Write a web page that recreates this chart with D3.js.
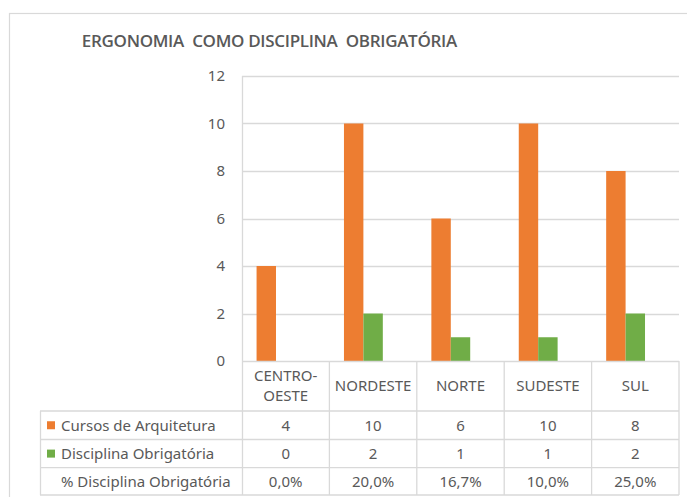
<!DOCTYPE html>
<html>
<head>
<meta charset="utf-8">
<script src="https://cdn.jsdelivr.net/npm/d3@7"></script>
<style>
  html, body { margin: 0; padding: 0; background: #fff; }
  svg { display: block; font-family: "Noto Sans", "Liberation Sans", sans-serif; }
</style>
</head>
<body>
<svg id="chart" width="687" height="497"></svg>
<script>
const categories = ["CENTRO-OESTE", "NORDESTE", "NORTE", "SUDESTE", "SUL"];
const cursosArquitetura = [4, 10, 6, 10, 8];
const disciplinaObrigatoria = [0, 2, 1, 1, 2];
const pctDisciplina = [0.0, 20.0, 16.7, 10.0, 25.0];
const yTicks = [0, 2, 4, 6, 8, 10, 12];
const seriesNames = ["Cursos de Arquitetura", "Disciplina Obrigatória", "% Disciplina Obrigatória"];
const seriesColors = ["#ED7D31", "#70AD47", null];
const title = "ERGONOMIA  COMO DISCIPLINA  OBRIGATÓRIA";

const svg = d3.select("#chart");
const textColor = "#595959";
const lineColor = "#d9d9d9";

// layout
const plot = { left: 242, right: 679, top: 76, bottom: 361 };
const tableLeft = 40;
const rowBounds = [361, 411, 439.5, 467.7, 495];

// outer chart border
svg.append("rect")
  .attr("x", 9.5).attr("y", 13.5).attr("width", 700).attr("height", 500)
  .attr("fill", "none").attr("stroke", lineColor).attr("stroke-width", 1.2);

// title
const titleEl = svg.append("text")
  .attr("x", 269.5).attr("y", 47)
  .attr("text-anchor", "middle")
  .attr("fill", textColor)
  .attr("font-size", 17)
  .attr("font-weight", 600)
  .attr("font-family", "'Open Sans', 'Noto Sans', sans-serif")
  .attr("xml:space", "preserve")
  .style("white-space", "pre")
  .text(title);
{
  const target = 375;
  const w = titleEl.node().getComputedTextLength();
  const n = title.length;
  const ls = (target - w) / n;
  titleEl.attr("letter-spacing", ls);
  titleEl.attr("x", 269.5 + ls / 2);
}

const y = d3.scaleLinear().domain([0, 12]).range([plot.bottom, plot.top]);
const x = d3.scaleBand().domain(categories).range([plot.left, plot.right]).padding(0);
const subKeys = [0, 1, 2];
const x1 = d3.scaleBand().domain(subKeys).range([0, x.bandwidth()]).paddingInner(0).paddingOuter(0.75);

// gridlines
svg.append("g")
  .selectAll("line").data(yTicks.filter(d => d > 0)).join("line")
  .attr("x1", plot.left).attr("x2", plot.right)
  .attr("y1", d => Math.round(y(d)) + 0.5).attr("y2", d => Math.round(y(d)) + 0.5)
  .attr("stroke", lineColor).attr("stroke-width", 1.3);

// y axis labels
const yAxis = d3.axisLeft(y).tickValues(yTicks).tickSize(0).tickPadding(0).tickFormat(d3.format("d"));
const yg = svg.append("g").attr("transform", `translate(${225},0)`).call(yAxis);
yg.select(".domain").remove();
yg.selectAll("text").attr("fill", textColor).attr("font-size", 15).attr("font-family", "Noto Sans, sans-serif");

// bars
const barSeries = [cursosArquitetura, disciplinaObrigatoria];
barSeries.forEach((vals, si) => {
  svg.append("g").selectAll("rect").data(vals).join("rect")
    .attr("x", (d, i) => x(categories[i]) + x1(si))
    .attr("width", x1.bandwidth())
    .attr("y", d => y(d))
    .attr("height", d => y(0) - y(d))
    .attr("fill", seriesColors[si]);
});

// data table lines
const tg = svg.append("g").attr("stroke", lineColor).attr("stroke-width", 1.3);
tg.append("line").attr("x1", plot.left).attr("x2", plot.right)
  .attr("y1", plot.bottom + 0.5).attr("y2", plot.bottom + 0.5);
rowBounds.slice(1).forEach(r => {
  tg.append("line").attr("x1", tableLeft).attr("x2", plot.right)
    .attr("y1", r).attr("y2", r);
});
tg.append("line").attr("x1", plot.left + 0.5).attr("x2", plot.left + 0.5)
  .attr("y1", plot.top).attr("y2", rowBounds[4]);
categories.forEach((c, i) => {
  const xx = x(c) + x.bandwidth();
  tg.append("line").attr("x1", xx).attr("x2", xx)
    .attr("y1", plot.bottom).attr("y2", rowBounds[4]);
});
tg.append("line").attr("x1", tableLeft + 0.5).attr("x2", tableLeft + 0.5)
  .attr("y1", rowBounds[1]).attr("y2", rowBounds[4]);

const fs = 15;
// header labels
categories.forEach((c, i) => {
  const cx = x(c) + x.bandwidth() / 2;
  const lines = c.includes("-") ? [c.slice(0, c.indexOf("-") + 1), c.slice(c.indexOf("-") + 1)] : [c];
  const cy = (rowBounds[0] + rowBounds[1]) / 2;
  const lh = 20;
  lines.forEach((ln, j) => {
    svg.append("text")
      .attr("x", cx)
      .attr("y", cy + (j - (lines.length - 1) / 2) * lh)
      .attr("dy", "0.36em")
      .attr("text-anchor", "middle")
      .attr("fill", textColor).attr("font-size", fs)
      .text(ln);
  });
});

// data rows
const fmtPct = v => v.toFixed(1).replace(".", ",") + "%";
const rows = [
  cursosArquitetura.map(String),
  disciplinaObrigatoria.map(String),
  pctDisciplina.map(fmtPct)
];
rows.forEach((vals, r) => {
  const cy = (rowBounds[r + 1] + rowBounds[r + 2]) / 2;
  vals.forEach((v, i) => {
    svg.append("text")
      .attr("x", x(categories[i]) + x.bandwidth() / 2)
      .attr("y", cy).attr("dy", "0.36em")
      .attr("text-anchor", "middle")
      .attr("fill", textColor).attr("font-size", fs)
      .text(v);
  });
  if (seriesColors[r]) {
    svg.append("rect").attr("x", 47).attr("y", cy - 4).attr("width", 8).attr("height", 8)
      .attr("fill", seriesColors[r]);
  }
  svg.append("text")
    .attr("x", 61).attr("y", cy).attr("dy", "0.36em")
    .attr("fill", textColor).attr("font-size", fs)
    .text(seriesNames[r]);
});
</script>
</body>
</html>
